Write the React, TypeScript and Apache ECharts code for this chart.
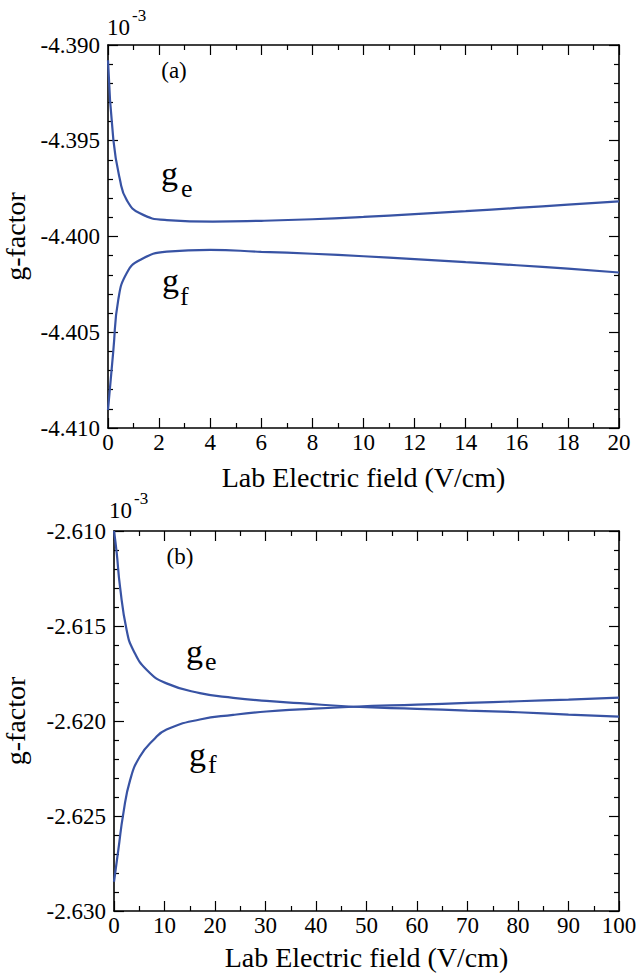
import React, { useEffect, useRef } from "react";
import * as echarts from "echarts";

// Panel (a): field 0-20 V/cm, g-factor in units of 1e-3
const fieldGeA = [0, 0.21, 0.47, 0.73, 1.25, 2.3, 4.1, 6, 8, 10, 12, 14, 16, 18, 20];
const geA = [-4.3908, -4.39496, -4.39705, -4.39809, -4.39879, -4.39914, -4.39922, -4.39918, -4.3991, -4.39898, -4.39883, -4.39868, -4.39851, -4.39834, -4.39817];
const fieldGfA = [0, 0.21, 0.4, 0.73, 1.25, 2.3, 4.0, 6, 8, 10, 12, 14, 16, 18, 20];
const gfA = [-4.40906, -4.40593, -4.40332, -4.40192, -4.40123, -4.40079, -4.4007, -4.4008, -4.4009, -4.40103, -4.40118, -4.40134, -4.4015, -4.40168, -4.40188];

// Panel (b): field 0-100 V/cm
const fieldGeB = [0, 0.53, 1.19, 2.5, 3.8, 6.5, 10.4, 17, 23.6, 30.2, 36.8, 47.4, 60, 70, 80, 90, 100];
const geB = [-2.61, -2.61114, -2.61293, -2.61521, -2.61626, -2.61732, -2.61802, -2.61853, -2.61878, -2.61894, -2.61906, -2.61925, -2.61936, -2.61945, -2.61954, -2.61966, -2.61977];
const fieldGfB = [0, 0.85, 1.85, 3.2, 5.1, 7.8, 10.4, 17, 23.6, 30.2, 36.8, 47.4, 60, 70, 80, 90, 100];
const gfB = [-2.62846, -2.6268, -2.62486, -2.6231, -2.62188, -2.621, -2.62045, -2.61992, -2.61968, -2.6195, -2.61939, -2.61925, -2.61914, -2.61905, -2.61896, -2.61887, -2.61877];

const xTitle = "Lab Electric field (V/cm)";
const yTitle = "g-factor";
const FONT = "Liberation Serif";
const LINE_COLOR = "#3853a4";

const pairs = (xs: number[], ys: number[]) => xs.map((x, i) => [x, ys[i]]);

function xAxisCfg(grid: number, max: number, interval: number, position: "bottom" | "top", withLabels: boolean, gap: number) {
  return {
    type: "value",
    gridIndex: grid,
    position,
    min: 0,
    max,
    interval,
    name: withLabels ? xTitle : "",
    nameLocation: "middle",
    nameGap: gap,
    nameTextStyle: { fontFamily: FONT, fontSize: 28, color: "#000" },
    axisLine: { show: true, onZero: false, lineStyle: { color: "#000", width: 1.6 } },
    axisTick: { show: true, inside: true, length: 10, lineStyle: { color: "#000", width: 1.2 } },
    minorTick: { show: true, splitNumber: 2, length: 5, lineStyle: { color: "#000", width: 1.2 } },
    axisLabel: { show: withLabels, fontFamily: FONT, fontSize: 23, color: "#000", margin: 3 },
    splitLine: { show: false },
    minorSplitLine: { show: false },
  };
}

function yAxisCfg(grid: number, min: number, max: number, position: "left" | "right", withLabels: boolean, gap: number) {
  return {
    type: "value",
    gridIndex: grid,
    position,
    min,
    max,
    interval: 0.005,
    name: withLabels ? yTitle : "",
    nameLocation: "middle",
    nameGap: gap,
    nameRotate: 90,
    nameTextStyle: { fontFamily: FONT, fontSize: 28, lineHeight: 26, color: "#000" },
    axisLine: { show: true, onZero: false, lineStyle: { color: "#000", width: 1.6 } },
    axisTick: { show: true, inside: true, length: 10, lineStyle: { color: "#000", width: 1.2 } },
    minorTick: { show: true, splitNumber: 5, length: 5, lineStyle: { color: "#000", width: 1.2 } },
    axisLabel: {
      show: withLabels,
      fontFamily: FONT,
      fontSize: 23,
      color: "#000",
      margin: 8,
      formatter: (v: number) => v.toFixed(3),
    },
    splitLine: { show: false },
    minorSplitLine: { show: false },
  };
}

function lineSeries(xi: number, yi: number, data: number[][], name: string) {
  return {
    type: "line",
    name,
    xAxisIndex: xi,
    yAxisIndex: yi,
    data,
    smooth: 0.5,
    showSymbol: false,
    symbol: "none",
    lineStyle: { color: LINE_COLOR, width: 2.2 },
  };
}

function txt(x: number, y: number, text: string, size: number, align = "left") {
  return {
    type: "text",
    x,
    y,
    silent: true,
    style: { text, fontFamily: FONT, fontSize: size, fill: "#000", align, verticalAlign: "middle" },
  };
}

export default function App() {
  const ref = useRef<HTMLDivElement>(null);
  useEffect(() => {
    if (!ref.current) return;
    const chart = echarts.init(ref.current, null, { renderer: "svg" });
    chart.setOption({
      animation: false,
      backgroundColor: "#fff",
      grid: [
        { left: 108, top: 45, width: 511, height: 383, containLabel: false, outerBoundsMode: "none" },
        { left: 114, top: 531, width: 505, height: 380, containLabel: false, outerBoundsMode: "none" },
      ],
      xAxis: [
        xAxisCfg(0, 20, 2, "bottom", true, 35),
        xAxisCfg(0, 20, 2, "top", false, 0),
        xAxisCfg(1, 100, 10, "bottom", true, 32),
        xAxisCfg(1, 100, 10, "top", false, 0),
      ],
      yAxis: [
        yAxisCfg(0, -4.41, -4.39, "left", true, 80),
        yAxisCfg(0, -4.41, -4.39, "right", false, 0),
        yAxisCfg(1, -2.63, -2.61, "left", true, 86),
        yAxisCfg(1, -2.63, -2.61, "right", false, 0),
      ],
      series: [
        lineSeries(0, 0, pairs(fieldGeA, geA), "g_e (a)"),
        lineSeries(0, 0, pairs(fieldGfA, gfA), "g_f (a)"),
        lineSeries(2, 2, pairs(fieldGeB, geB), "g_e (b)"),
        lineSeries(2, 2, pairs(fieldGfB, gfB), "g_f (b)"),
      ],
      graphic: [
        txt(107, 27, "10", 23),
        txt(132, 15, "-3", 17),
        txt(109, 510, "10", 23),
        txt(134, 498, "-3", 17),
        txt(174, 70, "(a)", 23, "center"),
        txt(180, 556, "(b)", 23, "center"),
        txt(161, 173, "g", 34),
        txt(181, 188, "e", 26),
        txt(162, 280, "g", 34),
        txt(180, 296, "f", 26),
        txt(186, 651, "g", 34),
        txt(205, 661, "e", 26),
        txt(189, 754, "g", 34),
        txt(208, 764, "f", 26),
      ],
    });
    return () => chart.dispose();
  }, []);
  return <div ref={ref} style={{ position: "absolute", left: 0, top: 0, width: 638, height: 973 }} />;
}
